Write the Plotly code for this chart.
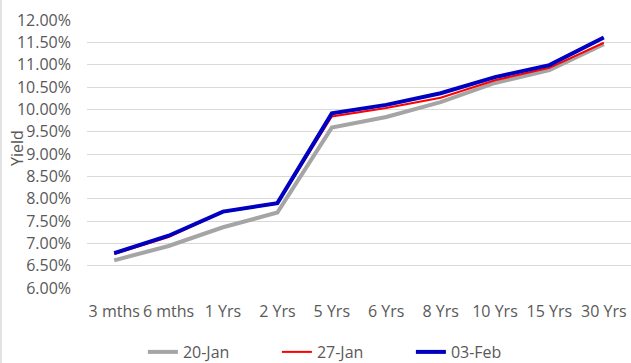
import plotly.graph_objects as go

categories = ["3 mths", "6 mths", "1 Yrs", "2 Yrs", "5 Yrs", "6 Yrs", "8 Yrs", "10 Yrs", "15 Yrs", "30 Yrs"]
jan20 = [6.62, 6.94, 7.36, 7.69, 9.59, 9.83, 10.16, 10.59, 10.88, 11.46]
jan27 = [6.76, 7.14, 7.70, 7.89, 9.84, 10.03, 10.26, 10.65, 10.93, 11.49]
feb03 = [6.78, 7.17, 7.71, 7.90, 9.91, 10.10, 10.36, 10.72, 10.99, 11.61]
ytick_vals = [6.0, 6.5, 7.0, 7.5, 8.0, 8.5, 9.0, 9.5, 10.0, 10.5, 11.0, 11.5, 12.0]
ytick_text = [f"{v:.2f}%" for v in ytick_vals]

font = "Open Sans, sans-serif"
fs = 16
fig = go.Figure()
fig.add_trace(go.Scatter(x=categories, y=jan20, mode="lines", name="20-Jan",
                         line=dict(color="#A5A5A5", width=4)))
fig.add_trace(go.Scatter(x=categories, y=jan27, mode="lines", name="27-Jan",
                         line=dict(color="#FF0000", width=2)))
fig.add_trace(go.Scatter(x=categories, y=feb03, mode="lines", name="03-Feb",
                         line=dict(color="#0000C0", width=4)))

fig.update_layout(
    width=631, height=363,
    margin=dict(l=87, r=0, t=20, b=75, autoexpand=False),
    paper_bgcolor="white", plot_bgcolor="white",
    font=dict(family=font, size=fs, color="#595959"),
    showlegend=True,
    legend=dict(orientation="h", x=0.545, xref="container", xanchor="center",
                y=1 - 352 / 363, yref="container", yanchor="middle",
                entrywidth=89, entrywidthmode="pixels",
                font=dict(size=fs, color="#595959"), traceorder="normal"),
    xaxis=dict(type="category", range=[-0.5, 9.5], showgrid=False, showline=False,
               zeroline=False, ticks="", ticklabelstandoff=12, automargin=False,
               tickfont=dict(size=fs, color="#595959")),
    yaxis=dict(range=[6, 12], tickvals=ytick_vals, ticktext=ytick_text,
               showgrid=True, gridcolor="#D9D9D9", gridwidth=1.3, zeroline=False,
               showline=False, ticks="", ticklabelstandoff=15, automargin=False,
               tickfont=dict(size=fs, color="#595959")),
    annotations=[dict(text="Yield", xref="paper", yref="paper", x=(17 - 87) / 544,
                      y=(288 - 148) / 268, textangle=-90, showarrow=False, xanchor="center",
                      yanchor="middle", font=dict(size=fs, color="#595959"))],
    shapes=[dict(type="line", xref="paper", yref="paper", x0=(1 - 87) / 544,
                 x1=(1 - 87) / 544, y0=-75 / 268, y1=1 + 20 / 268,
                 line=dict(color="#D9D9D9", width=1.5))],
)

fig.write_html("out.html", config={"displayModeBar": False},
               post_script="document.body.style.margin='0';document.body.style.padding='0';document.body.style.overflow='hidden';")
